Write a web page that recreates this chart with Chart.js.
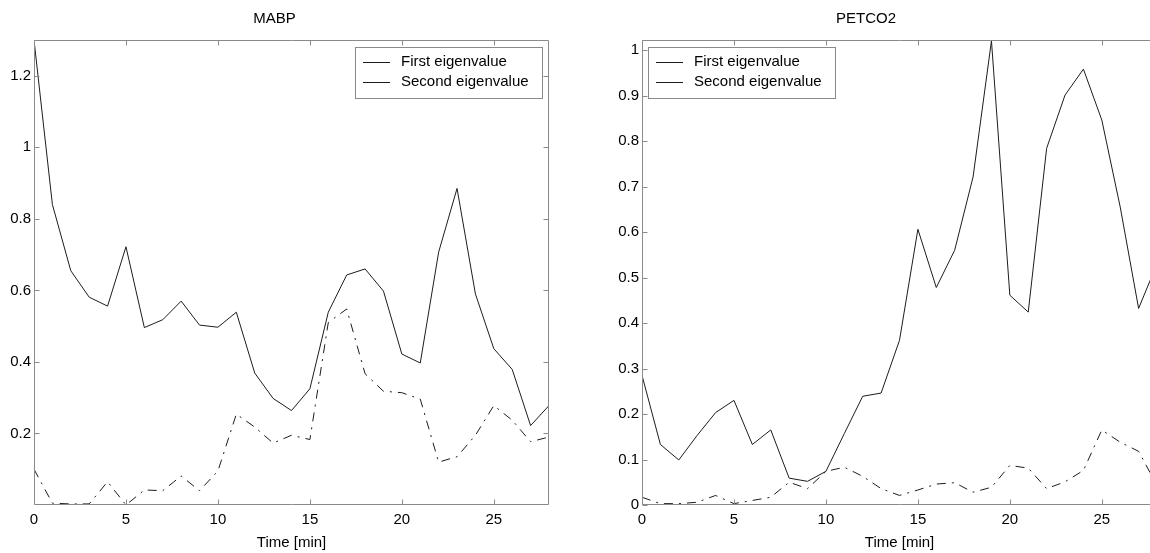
<!DOCTYPE html>
<html><head><meta charset="utf-8">
<script src="https://cdn.jsdelivr.net/npm/chart.js@4.4.1/dist/chart.umd.min.js"></script>
<style>
html,body{margin:0;padding:0;background:#fff;overflow:hidden;width:1150px;height:553px;}
#c1{position:absolute;left:0;top:0;}
#c2{position:absolute;left:575px;top:0;}
</style></head><body>
<canvas id="c1" width="575" height="553"></canvas>
<canvas id="c2" width="590" height="553"></canvas>
<script>
const timeMin = [0,1,2,3,4,5,6,7,8,9,10,11,12,13,14,15,16,17,18,19,20,21,22,23,24,25,26,27,28];
const mabpFirst = [1.30,0.84,0.655,0.581,0.556,0.722,0.496,0.518,0.57,0.503,0.497,0.539,0.369,0.298,0.264,0.325,0.539,0.643,0.66,0.598,0.422,0.397,0.707,0.885,0.59,0.437,0.379,0.222,0.278];
const mabpSecond = [0.10,0.005,0.003,0.003,0.065,0.0,0.042,0.04,0.081,0.04,0.095,0.254,0.218,0.173,0.195,0.183,0.51,0.548,0.367,0.318,0.314,0.296,0.12,0.135,0.195,0.278,0.237,0.177,0.19];
const petco2First = [0.285,0.133,0.099,0.153,0.203,0.23,0.133,0.165,0.059,0.052,0.074,0.157,0.239,0.246,0.362,0.606,0.478,0.56,0.721,1.02,0.461,0.424,0.784,0.901,0.958,0.846,0.655,0.432,0.53];
const petco2Second = [0.017,0.003,0.003,0.006,0.021,0.003,0.01,0.017,0.05,0.036,0.074,0.083,0.063,0.036,0.021,0.033,0.046,0.049,0.028,0.039,0.087,0.081,0.036,0.051,0.076,0.165,0.138,0.118,0.043];
const xTickValues = [0,5,10,15,20,25];
const xTickLabels = ['0','5','10','15','20','25'];
const mabpYTicks = [0.2,0.4,0.6,0.8,1,1.2];
const mabpYLabels = ['0.2','0.4','0.6','0.8','1','1.2'];
const petco2YTicks = [0,0.1,0.2,0.3,0.4,0.5,0.6,0.7,0.8,0.9,1];
const petco2YLabels = ['0','0.1','0.2','0.3','0.4','0.5','0.6','0.7','0.8','0.9','1'];
const seriesNames = ['First eigenvalue','Second eigenvalue'];
const chartTitles = ['MABP','PETCO2'];
const xAxisTitle = 'Time [min]';

const FONT = '"Liberation Sans", Arial, sans-serif';
Chart.defaults.font.family = FONT;
Chart.defaults.font.size = 15;
Chart.defaults.color = '#000';
const AXIS = '#8a8a8a';
const LINE = '#1c1c1c';

function frame(legendSide) {
  return {
    id: 'frame',
    afterDraw(chart) {
      const ctx = chart.ctx, ca = chart.chartArea;
      const xs = chart.scales.x, ys = chart.scales.y;
      ctx.save();
      ctx.strokeStyle = AXIS; ctx.lineWidth = 1;
      const L = Math.round(ca.left) + 0.5, R = Math.round(ca.right) - 0.5;
      const T = Math.round(ca.top) + 0.5, B = Math.round(ca.bottom) - 0.5;
      ctx.beginPath();
      ctx.moveTo(L, T); ctx.lineTo(R, T); ctx.lineTo(R, B); ctx.lineTo(L, B); ctx.closePath();
      ctx.stroke();
      ctx.beginPath();
      xs.ticks.forEach(t => {
        const x = Math.round(xs.getPixelForValue(t.value)) + 0.5;
        ctx.moveTo(x, B); ctx.lineTo(x, B - 5);
        ctx.moveTo(x, T); ctx.lineTo(x, T + 5);
      });
      ys.ticks.forEach(t => {
        const y = Math.round(ys.getPixelForValue(t.value)) + 0.5;
        ctx.moveTo(L, y); ctx.lineTo(L + 5, y);
        ctx.moveTo(R, y); ctx.lineTo(R - 5, y);
      });
      ctx.stroke();
      // legend
      ctx.font = '15px ' + FONT;
      const tw = Math.max(...chart.data.datasets.map(d => ctx.measureText(d.label).width));
      const boxW = Math.round(46 + tw + 13), boxH = 51;
      const bx = legendSide === 'right' ? Math.round(ca.right - 7 - boxW) : Math.round(ca.left + 6);
      const by = Math.round(ca.top + 7);
      ctx.fillStyle = '#fff';
      ctx.fillRect(bx, by, boxW, boxH);
      ctx.strokeStyle = AXIS;
      ctx.strokeRect(bx + 0.5, by + 0.5, boxW, boxH);
      chart.data.datasets.forEach((d, i) => {
        const y = by + 15 + 20 * i;
        ctx.strokeStyle = LINE; ctx.lineWidth = 1;
        ctx.beginPath(); ctx.moveTo(bx + 8, y + 0.5); ctx.lineTo(bx + 35, y + 0.5); ctx.stroke();
        ctx.fillStyle = '#000'; ctx.textBaseline = 'middle'; ctx.textAlign = 'left';
        ctx.fillText(d.label, bx + 46, y);
      });
      ctx.restore();
    }
  };
}

function makeChart(id, title, first, second, yMax, yTicks, yLabels, yWidth, rightPad, legendSide) {
  return new Chart(document.getElementById(id), {
    type: 'line',
    data: {
      datasets: [
        { label: seriesNames[0], data: timeMin.map((t, i) => ({ x: t, y: first[i] })),
          borderColor: LINE, borderWidth: 1, pointRadius: 0, tension: 0, fill: false },
        { label: seriesNames[1], data: timeMin.map((t, i) => ({ x: t, y: second[i] })),
          borderColor: LINE, borderWidth: 1, pointRadius: 0, tension: 0, fill: false,
          borderDash: [9, 6, 2, 6] }
      ]
    },
    options: {
      responsive: false, animation: false, devicePixelRatio: 1,
      layout: { padding: { left: 0, right: rightPad, top: 0, bottom: 0 } },
      plugins: {
        legend: { display: false }, tooltip: { enabled: false },
        title: { display: true, text: title, color: '#000', font: { size: 15, weight: 'normal' }, padding: { top: 10, bottom: 12 } }
      },
      scales: {
        x: {
          type: 'linear', min: 0, max: 28,
          grid: { display: false, drawTicks: false }, border: { display: false },
          afterBuildTicks: s => { s.ticks = xTickValues.map(v => ({ value: v })); },
          afterFit: s => { s.height = 48; },
          ticks: { padding: 6, color: '#000', maxRotation: 0, autoSkip: false,
                   callback: (v, i) => xTickLabels[i] },
          title: { display: true, text: xAxisTitle, color: '#000', font: { size: 15 }, padding: { top: 0, bottom: 1 } }
        },
        y: {
          type: 'linear', min: 0, max: yMax,
          grid: { display: false, drawTicks: false }, border: { display: false },
          afterBuildTicks: s => { s.ticks = yTicks.map(v => ({ value: v })); },
          afterFit: s => { s.width = yWidth; },
          ticks: { padding: 3, color: '#000', autoSkip: false, callback: (v, i) => yLabels[i] }
        }
      }
    },
    plugins: [frame(legendSide)]
  });
}

makeChart('c1', chartTitles[0], mabpFirst, mabpSecond, 1.3, mabpYTicks, mabpYLabels, 34, 26, 'right');
makeChart('c2', chartTitles[1], petco2First, petco2Second, 1.022, petco2YTicks, petco2YLabels, 67, 8, 'left');
</script>
</body></html>
